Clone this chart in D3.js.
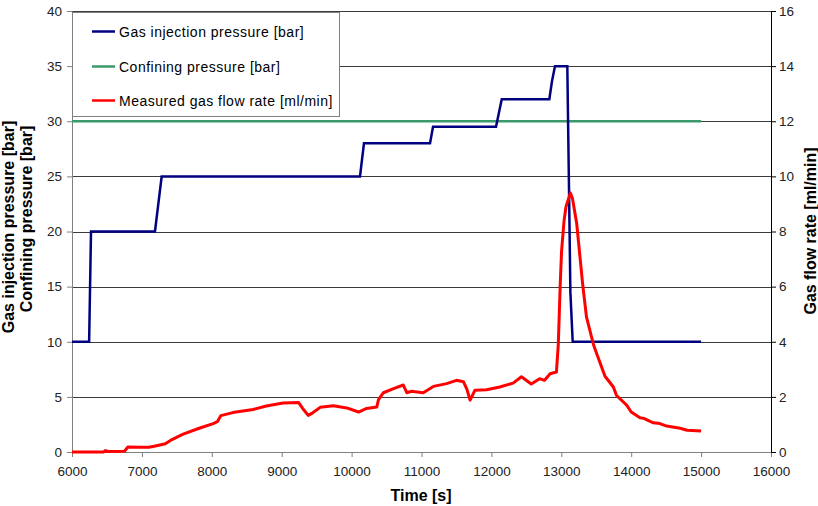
<!DOCTYPE html>
<html>
<head>
<meta charset="utf-8">
<script src="https://cdn.jsdelivr.net/npm/d3@7"></script>
<style>
  html, body { margin: 0; padding: 0; background: #fff; overflow: hidden; }
  svg { display: block; }
  text { font-family: "Liberation Sans", Arial, sans-serif; }
</style>
</head>
<body>
<svg id="chart" width="818" height="506"></svg>
<script>

// time [s] / value pairs
const injectionTime = [6000, 6245, 6272, 7187, 7283, 10120, 10177, 11122, 11165, 12066, 12148, 12829, 12866, 12910, 13086, 13110, 13130, 13163, 15000];
const injectionPressure = [10, 10, 20, 20, 25, 25, 28, 28, 29.5, 29.5, 32, 32, 33.6, 35, 35, 24, 14.5, 10, 10];

const confiningTime = [6000, 15000];
const confiningPressure = [30, 30];

const flowTime = [6000, 6450, 6480, 6520, 6750, 6800, 6970, 7100, 7210, 7335, 7430, 7590, 7830, 8020, 8080, 8130, 8300, 8590, 8780, 9020,
  9240, 9300, 9380, 9430, 9550, 9740, 9930, 10100, 10215, 10360, 10385, 10455, 10600, 10740, 10790, 10850, 11026, 11170, 11360, 11500,
  11600, 11650, 11695, 11765, 11930, 12120, 12310, 12430, 12570, 12690, 12760, 12840, 12930, 12957, 12985, 13004, 13040, 13067, 13130, 13160,
  13220, 13305, 13360, 13460, 13495, 13625, 13745, 13790, 13935, 14000, 14126, 14180, 14316, 14410, 14507, 14700, 14800, 15000];
const flowRate = [0, 0, 0.05, 0.02, 0.03, 0.18, 0.17, 0.17, 0.23, 0.3, 0.45, 0.65, 0.87, 1.03, 1.1, 1.32, 1.43, 1.54, 1.67, 1.78,
  1.8, 1.58, 1.33, 1.4, 1.62, 1.68, 1.6, 1.45, 1.58, 1.63, 1.9, 2.15, 2.3, 2.43, 2.15, 2.2, 2.15, 2.38, 2.48, 2.6,
  2.55, 2.27, 1.88, 2.24, 2.26, 2.36, 2.5, 2.73, 2.47, 2.66, 2.6, 2.84, 2.9, 3.9, 6.1, 7.3, 8.4, 8.9, 9.4, 9.2,
  8.3, 6.1, 4.9, 3.9, 3.65, 2.75, 2.36, 2.05, 1.7, 1.45, 1.24, 1.22, 1.06, 1.03, 0.94, 0.86, 0.79, 0.76];

const xTicks = [6000, 7000, 8000, 9000, 10000, 11000, 12000, 13000, 14000, 15000, 16000];
const leftTicks = [0, 5, 10, 15, 20, 25, 30, 35, 40];
const rightTicks = [0, 2, 4, 6, 8, 10, 12, 14, 16];

const legendLabels = ['Gas injection pressure [bar]', 'Confining pressure [bar]', 'Measured gas flow rate [ml/min]'];
const seriesColors = ['#000080', '#3a9a6c', '#ff0000'];

const svg = d3.select('#chart');
const margin = { top: 11, right: 47, bottom: 54, left: 72 };
const width = +svg.attr('width');
const height = +svg.attr('height');
const innerWidth = width - margin.left - margin.right;
const innerHeight = height - margin.top - margin.bottom;

const x = d3.scaleLinear().domain([6000, 16000]).range([0, innerWidth]);
const yLeft = d3.scaleLinear().domain([0, 40]).range([innerHeight, 0]);
const yRight = d3.scaleLinear().domain([0, 16]).range([innerHeight, 0]);

const g = svg.append('g')
    .attr('transform', `translate(${margin.left}, ${margin.top})`);

// gridlines
g.selectAll('.grid')
  .data(leftTicks)
  .enter()
  .append('line')
    .attr('x1', 0)
    .attr('x2', innerWidth)
    .attr('y1', d => Math.round(yLeft(d)) + 0.5)
    .attr('y2', d => Math.round(yLeft(d)) + 0.5)
    .attr('stroke', '#3c3c3c')
    .attr('stroke-width', 1);

// axes
const styleAxis = (sel, color) => {
  sel.select('.domain').attr('stroke', color).attr('stroke-width', 1);
  sel.selectAll('.tick line').attr('stroke', color);
  sel.selectAll('.tick text')
    .attr('fill', '#222')
    .style('font-size', '13.5px');
};

g.append('g')
    .attr('transform', `translate(0, ${innerHeight})`)
    .call(d3.axisBottom(x).tickValues(xTicks).tickFormat(d3.format('d')).tickSize(5).tickPadding(9).tickSizeOuter(0))
    .call(sel => styleAxis(sel, '#808080'));

g.append('g')
    .call(d3.axisLeft(yLeft).tickValues(leftTicks).tickSize(5).tickPadding(5).tickSizeOuter(0))
    .call(sel => styleAxis(sel, '#808080'));

g.append('g')
    .attr('transform', `translate(${innerWidth}, 0)`)
    .call(d3.axisRight(yRight).tickValues(rightTicks).tickSize(5).tickPadding(3).tickSizeOuter(0))
    .call(sel => styleAxis(sel, '#000'));

// series
const lineLeft = d3.line().x(d => x(d[0])).y(d => yLeft(d[1]));
const lineRight = d3.line().x(d => x(d[0])).y(d => yRight(d[1]));

g.append('path')
    .datum(d3.zip(confiningTime, confiningPressure))
    .attr('d', lineLeft)
    .attr('fill', 'none')
    .attr('stroke', seriesColors[1])
    .attr('stroke-width', 2.5);

g.append('path')
    .datum(d3.zip(injectionTime, injectionPressure))
    .attr('d', lineLeft)
    .attr('fill', 'none')
    .attr('stroke', seriesColors[0])
    .attr('stroke-width', 2.5);

g.append('path')
    .datum(d3.zip(flowTime, flowRate))
    .attr('d', lineRight)
    .attr('fill', 'none')
    .attr('stroke', seriesColors[2])
    .attr('stroke-width', 3)
    .attr('stroke-linejoin', 'round');

// legend
const legend = svg.append('g');
legend.append('rect')
    .attr('x', 72.5)
    .attr('y', 12.5)
    .attr('width', 267)
    .attr('height', 104)
    .attr('fill', '#fff')
    .attr('stroke', '#808080');

const legendY = [31.5, 66.5, 100.5];
legendLabels.forEach((label, i) => {
  legend.append('line')
      .attr('x1', 92).attr('x2', 115)
      .attr('y1', legendY[i]).attr('y2', legendY[i])
      .attr('stroke', seriesColors[i])
      .attr('stroke-width', 2.5);
  legend.append('text')
      .attr('x', 119)
      .attr('y', legendY[i] + 5)
      .style('font-size', '14px')
      .style('letter-spacing', '0.5px')
      .attr('fill', '#000')
      .text(label);
});

// axis titles
svg.append('text')
    .attr('x', 421)
    .attr('y', 501)
    .attr('text-anchor', 'middle')
    .style('font-size', '16px')
    .style('font-weight', 'bold')
    .text('Time [s]');

svg.append('text')
    .attr('transform', 'translate(14, 227) rotate(-90)')
    .attr('text-anchor', 'middle')
    .style('font-size', '16px')
    .style('font-weight', 'bold')
    .text('Gas injection pressure [bar]');

svg.append('text')
    .attr('transform', 'translate(32, 219) rotate(-90)')
    .attr('text-anchor', 'middle')
    .style('font-size', '16px')
    .style('font-weight', 'bold')
    .text('Confining pressure [bar]');

svg.append('text')
    .attr('transform', 'translate(816, 231) rotate(-90)')
    .attr('text-anchor', 'middle')
    .style('font-size', '16px')
    .style('font-weight', 'bold')
    .text('Gas flow rate [ml/min]');

</script>
</body>
</html>
